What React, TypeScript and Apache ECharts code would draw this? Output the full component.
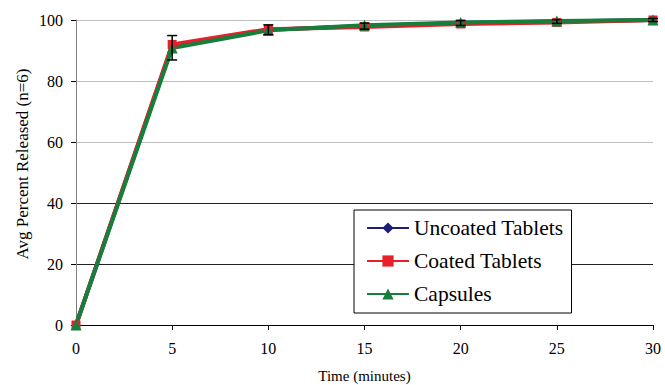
import React, { useEffect, useRef } from "react";
import * as echarts from "echarts";

const times = [0, 5, 10, 15, 20, 25, 30];
const uncoated = [0, 91.5, 96.8, 98.0, 99.0, 99.5, 100];
const coated = [0, 92.0, 97.0, 97.7, 98.7, 99.2, 100];
const capsules = [0, 90.8, 96.6, 98.3, 99.2, 99.7, 100];
const errMean = [0, 90.9, 96.8, 98.0, 99.0, 99.5, 100];
const errSd = [0, 4.0, 1.6, 1.0, 0.8, 0.6, 0.5];

const serif = "Liberation Serif";

export default function App() {
  const ref = useRef<HTMLDivElement>(null);
  useEffect(() => {
    if (!ref.current) return;
    const chart = echarts.init(ref.current, null, { renderer: "svg" });
    const mk = (name: string, data: number[], color: string, symbol: string, size: number) => ({
      name,
      type: "line",
      data: times.map((t, i) => [t, data[i]]),
      symbol,
      symbolSize: size,
      clip: false,
      lineStyle: { color, width: 4 },
      itemStyle: { color },
      z: 3,
    });
    chart.setOption({
      animation: false,
      backgroundColor: "#fff",
      textStyle: { fontFamily: serif },
      grid: { left: 76, right: 12, top: 20, bottom: 60, containLabel: false, outerBoundsMode: "none" },
      graphic: [
        {
          type: "text",
          x: 22,
          y: 164,
          rotation: Math.PI / 2,
          style: {
            text: "Avg Percent Released (n=6)",
            fontFamily: serif,
            fontSize: 17,
            fill: "#000",
            align: "center",
            verticalAlign: "middle",
          },
        },
      ],
      legend: {
        data: ["Uncoated Tablets", "Coated Tablets", "Capsules"],
        orient: "vertical",
        left: 354,
        top: 210,
        padding: [7, 8, 8, 12],
        itemGap: 11,
        itemWidth: 42,
        itemHeight: 14,
        borderColor: "#000",
        borderWidth: 1,
        backgroundColor: "#fff",
        textStyle: { fontFamily: serif, fontSize: 21.5, color: "#000" },
      },
      xAxis: {
        type: "value",
        min: 0,
        max: 30,
        interval: 5,
        name: "Time (minutes)",
        nameLocation: "middle",
        nameGap: 43,
        nameTextStyle: { fontFamily: serif, fontSize: 15, color: "#000" },
        axisLine: { lineStyle: { color: "#000", width: 1 } },
        axisTick: { show: true, length: 5, lineStyle: { color: "#000" } },
        axisLabel: { fontFamily: serif, fontSize: 16, color: "#000", margin: 15 },
        splitLine: { show: false },
      },
      yAxis: {
        type: "value",
        min: 0,
        max: 100,
        interval: 20,
        axisLine: { show: true, lineStyle: { color: "#808080", width: 1 } },
        axisTick: { show: true, length: 5, lineStyle: { color: "#000" } },
        axisLabel: { fontFamily: serif, fontSize: 16, color: "#000", margin: 13 },
        splitLine: {
          show: true,
          lineStyle: { color: ["#000", "#222", "#222", "#c0c0c0", "#c0c0c0", "#c0c0c0"], width: 1 },
        },
      },
      series: [
        mk("Uncoated Tablets", uncoated, "#1f1f78", "diamond", 9),
        mk("Coated Tablets", coated, "#e8202a", "rect", 9),
        mk("Capsules", capsules, "#157f3b", "triangle", 11),
        {
          name: "err",
          type: "custom",
          z: 4,
          data: times.map((t, i) => [t, errMean[i], errSd[i]]),
          renderItem: (params: any, api: any) => {
            const x = api.value(0);
            const m = api.value(1);
            const sd = api.value(2);
            if (sd <= 0) return null;
            const top = api.coord([x, m + sd]);
            const bot = api.coord([x, m - sd]);
            const hw = 5;
            const style = { stroke: "#000", lineWidth: 1.5 };
            return {
              type: "group",
              children: [
                { type: "line", shape: { x1: top[0], y1: top[1], x2: bot[0], y2: bot[1] }, style },
                { type: "line", shape: { x1: top[0] - hw, y1: top[1], x2: top[0] + hw, y2: top[1] }, style },
                { type: "line", shape: { x1: bot[0] - hw, y1: bot[1], x2: bot[0] + hw, y2: bot[1] }, style },
              ],
            };
          },
        },
      ],
    });
    return () => chart.dispose();
  }, []);
  return <div ref={ref} style={{ position: "fixed", left: 0, top: 0, width: 665, height: 385 }} />;
}
